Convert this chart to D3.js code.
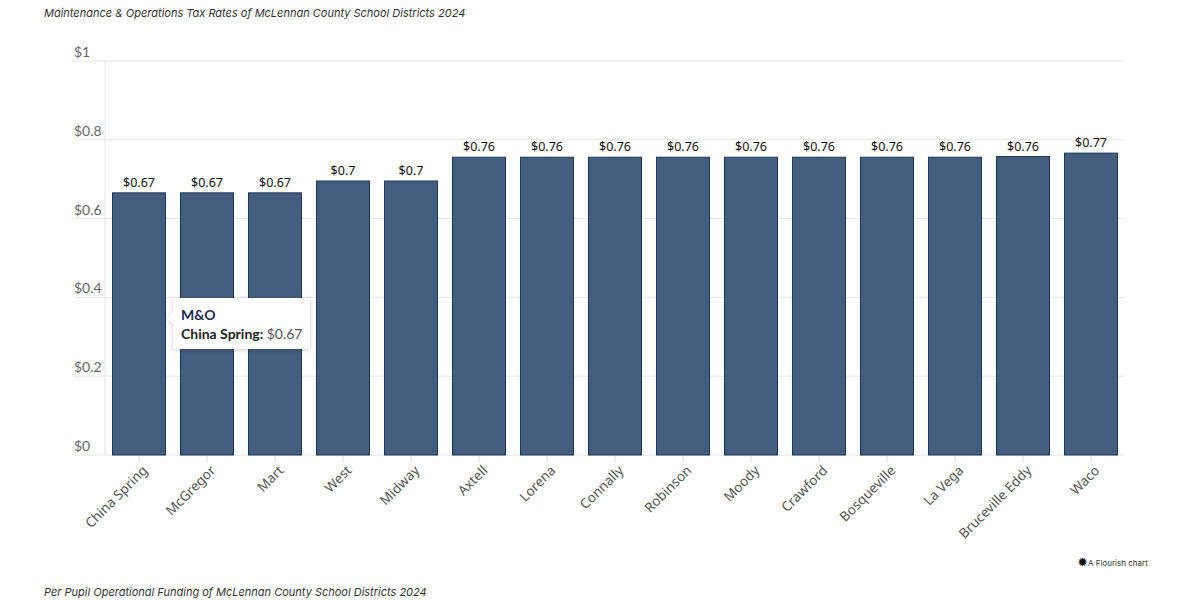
<!DOCTYPE html>
<html>
<head>
<meta charset="utf-8">
<script src="https://cdn.jsdelivr.net/npm/d3@7"></script>
<style>
  body { margin: 0; background: #fff; }
  svg { display: block; }
</style>
</head>
<body>
<div class="graph"></div>
<script>
// data
var districts = ['China Spring', 'McGregor', 'Mart', 'West', 'Midway', 'Axtell', 'Lorena', 'Connally',
    'Robinson', 'Moody', 'Crawford', 'Bosqueville', 'La Vega', 'Bruceville Eddy', 'Waco']
var rates = [0.6654, 0.6654, 0.6654, 0.6954, 0.6954, 0.7558, 0.7558, 0.7558,
    0.7558, 0.7558, 0.7558, 0.7558, 0.7558, 0.7575, 0.7662]
var yTicks = [0, 0.2, 0.4, 0.6, 0.8, 1]
var yTickLabels = ['$0', '$0.2', '$0.4', '$0.6', '$0.8', '$1']

var basewidth = 1200
var baseheight = 600

var svg = d3.select('.graph')
    .append('svg')
    .attr('width', basewidth)
    .attr('height', baseheight)
    .style('font-family', 'Lato, "Noto Sans", sans-serif')

// scales
var x = d3.scaleBand()
    .domain(districts)
    .range([105, 1125])
    .paddingInner(0.22)
    .paddingOuter(0.11)

var y = d3.scaleLinear()
    .domain([0, 1])
    .range([455, 61])

// title
svg.append('text')
    .attr('x', 44)
    .attr('y', 17)
    .style('font-family', 'Inter, "Noto Sans", sans-serif')
    .style('font-style', 'italic')
    .style('font-size', '11px')
    .style('fill', '#333')
    .text('Maintenance & Operations Tax Rates of McLennan County School Districts 2024')

// gridlines + y labels
var grid = svg.append('g')
grid.selectAll('line')
    .data(yTicks)
    .enter().append('line')
    .attr('x1', 74)
    .attr('x2', 1125)
    .attr('y1', d => y(d))
    .attr('y2', d => y(d))
    .style('stroke', '#e6e6e6')
    .style('stroke-width', 1)

grid.selectAll('text')
    .data(yTicks)
    .enter().append('text')
    .attr('x', 74)
    .attr('y', d => y(d) - 4)
    .style('font-size', '14px')
    .style('fill', '#666')
    .text((d, i) => yTickLabels[i])

// y axis line
svg.append('line')
    .attr('x1', 105).attr('x2', 105)
    .attr('y1', y(1)).attr('y2', y(0))
    .style('stroke', '#e6e6e6')

// bars
svg.append('g')
    .selectAll('rect')
    .data(rates)
    .enter().append('rect')
    .attr('x', (d, i) => x(districts[i]))
    .attr('y', d => y(d))
    .attr('width', x.bandwidth())
    .attr('height', d => y(0) - y(d))
    .style('fill', '#435d7e')
    .style('stroke', '#1f3656')
    .style('stroke-width', 1)

// value labels
var fmt = d3.format('$.2~f')
svg.append('g')
    .selectAll('text')
    .data(rates)
    .enter().append('text')
    .attr('x', (d, i) => x(districts[i]) + x.bandwidth() / 2)
    .attr('y', d => y(d) - 6)
    .attr('text-anchor', 'middle')
    .style('font-family', '"Noto Sans", sans-serif')
    .style('font-size', '12.5px')
    .style('font-weight', 400)
    .style('fill', '#111')
    .text(d => fmt(d))

// x ticks + labels
var xa = svg.append('g')
xa.selectAll('line')
    .data(districts)
    .enter().append('line')
    .attr('x1', d => x(d) + x.bandwidth() / 2)
    .attr('x2', d => x(d) + x.bandwidth() / 2)
    .attr('y1', 456)
    .attr('y2', 462)
    .style('stroke', '#ddd')

xa.selectAll('text')
    .data(districts)
    .enter().append('text')
    .attr('transform', d => 'translate(' + (x(d) + x.bandwidth() / 2 + 6) + ',468) rotate(-45)')
    .attr('text-anchor', 'end')
    .attr('dy', '0.35em')
    .style('font-family', '"Noto Sans", sans-serif')
    .style('font-size', '13.5px')
    .style('fill', '#555')
    .text(d => d)

// tooltip
var tip = svg.append('g')
    .attr('transform', 'translate(173,298)')
tip.append('defs').append('filter')
    .attr('id', 'shadow')
    .append('feDropShadow')
    .attr('dx', 0).attr('dy', 1)
    .attr('stdDeviation', 2)
    .attr('flood-color', '#000')
    .attr('flood-opacity', 0.2)
tip.append('path')
    .attr('d', 'M0,0 H137 V51 H0 V26 L-6,20 L0,14 Z')
    .style('fill', '#fff')
    .style('filter', 'url(#shadow)')
tip.append('text')
    .attr('x', 8).attr('y', 22)
    .style('font-size', '14px')
    .style('font-weight', 700)
    .style('fill', '#1b2a56')
    .text('M&O')
var t2 = tip.append('text')
    .attr('x', 8).attr('y', 41)
    .style('font-size', '14px')
t2.append('tspan')
    .style('font-weight', 700)
    .style('fill', '#222')
    .text(districts[0] + ': ')
t2.append('tspan')
    .style('fill', '#555')
    .text(fmt(rates[0]))

// flourish credit
var credit = svg.append('g')
    .attr('transform', 'translate(1082,563)')
credit.append('text')
    .attr('x', 0).attr('y', 3)
    .attr('text-anchor', 'middle')
    .style('font-size', '11px')
    .style('font-weight', 700)
    .style('fill', '#111')
    .text('\u2739')
credit.append('text')
    .attr('x', 6).attr('y', 3)
    .style('font-family', 'Inter, sans-serif')
    .style('font-size', '8px')
    .style('fill', '#333')
    .text('A Flourish chart')

// footer
svg.append('text')
    .attr('x', 44)
    .attr('y', 596)
    .style('font-family', 'Inter, "Noto Sans", sans-serif')
    .style('font-style', 'italic')
    .style('font-size', '11px')
    .style('fill', '#333')
    .text('Per Pupil Operational Funding of McLennan County School Districts 2024')
</script>
</body>
</html>
